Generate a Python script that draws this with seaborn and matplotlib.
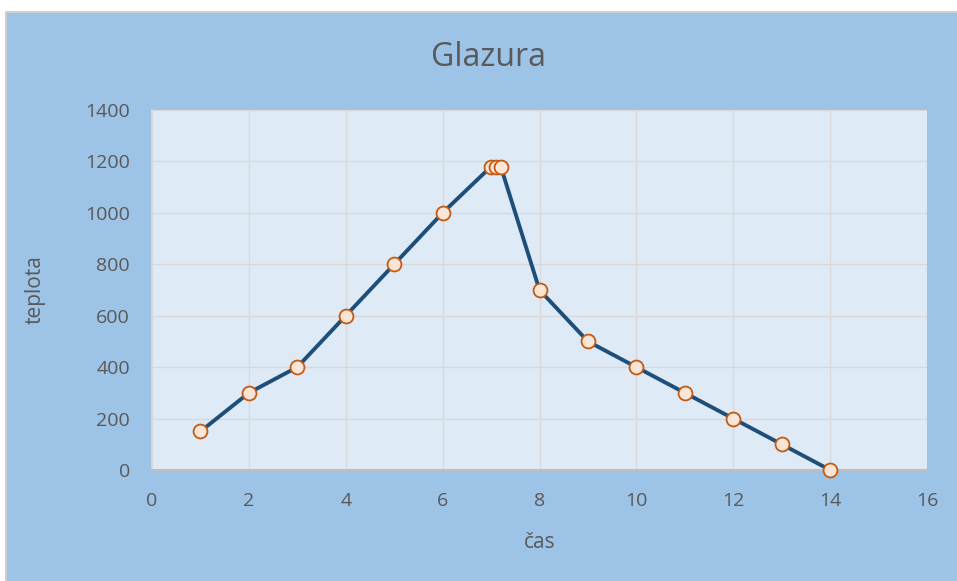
import matplotlib
matplotlib.use("Agg")
import matplotlib.pyplot as plt
import seaborn as sns
import pandas as pd
from matplotlib.patches import Rectangle
from matplotlib.lines import Line2D

cas = [1, 2, 3, 4, 5, 6, 7, 7.1, 7.2, 8, 9, 10, 11, 12, 13, 14]
teplota = [150, 300, 400, 600, 800, 1000, 1180, 1180, 1180, 700, 500, 400, 300, 200, 100, 0]
x_ticks = [0, 2, 4, 6, 8, 10, 12, 14, 16]
y_ticks = [0, 200, 400, 600, 800, 1000, 1200, 1400]

df = pd.DataFrame({"čas": cas, "teplota": teplota})

sns.set_theme(style="white")
plt.rcParams["font.family"] = ["Open Sans", "DejaVu Sans"]

text_col = "#595959"
fig = plt.figure(figsize=(9.57, 5.81), dpi=100)
fig.patch.set_facecolor("white")
x0, y1 = 6 / 957, 1 - 12 / 581
fig.patches.append(Rectangle((x0, 0), 1 - x0, y1,
                             transform=fig.transFigure, facecolor="#9DC3E6",
                             edgecolor="none", zorder=-10))
fig.lines.append(Line2D([x0, x0, 1], [0, y1, y1], transform=fig.transFigure,
                        color="#D0D0D0", linewidth=1.5))

ax = fig.add_axes([152 / 957, 1 - 470 / 581, (927 - 152) / 957, 360 / 581])
ax.set_facecolor("#DEEBF7")

sns.lineplot(data=df, x="čas", y="teplota", sort=False, ax=ax,
             color="#1F4E79", linewidth=2.8, marker="o", markersize=10,
             markerfacecolor="#FBE5D6", markeredgecolor="#C55A11",
             markeredgewidth=1.3, zorder=3, clip_on=False)

ax.set_xlim(0, 16)
ax.set_ylim(0, 1400)
ax.set_xticks(x_ticks)
ax.set_yticks(y_ticks)
ax.grid(True, color="#D9D9D9", linewidth=1)
ax.set_axisbelow(True)
for s in ["top", "right"]:
    ax.spines[s].set_visible(False)
ax.spines["left"].set_color("#D9D9D9")
ax.spines["bottom"].set_color("#BFBFBF")
ax.spines["bottom"].set_linewidth(1.5)
ax.tick_params(axis="both", length=0, labelsize=14, colors=text_col)
ax.tick_params(axis="x", pad=16)
ax.tick_params(axis="y", pad=16)
ax.set_xlabel("čas", fontsize=15, color=text_col)
ax.set_ylabel("teplota", fontsize=15, color=text_col)
ax.xaxis.set_label_coords((540 - 152) / 775, -(542 - 470) / 360)
ax.yaxis.set_label_coords(-(152 - 35) / 775, 0.5)
ax.xaxis.label.set_va("center")
ax.yaxis.label.set_va("center")

fig.text(488 / 957, 1 - 57 / 581, "Glazura", ha="center", va="center",
         fontsize=23, color=text_col)

fig.savefig("out.png", dpi=100, facecolor=fig.get_facecolor())
